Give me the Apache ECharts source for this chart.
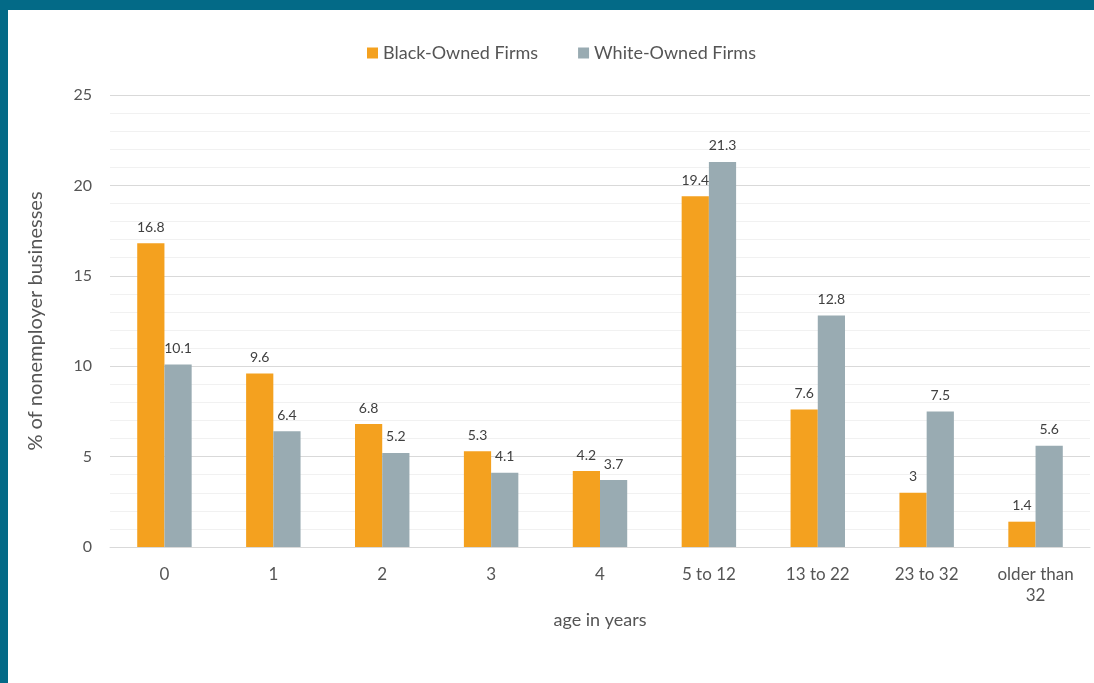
<!DOCTYPE html>
<html>
<head>
<meta charset="utf-8">
<script src="https://cdn.jsdelivr.net/npm/echarts@6/dist/echarts.min.js"></script>
<style>
  html, body { margin: 0; padding: 0; background: #ffffff; }
  #frame { position: relative; width: 1094px; height: 683px; overflow: hidden; background: #ffffff; }
  #topbar { position: absolute; left: 0; top: 0; width: 1094px; height: 10px; background: #036a87; }
  #leftbar { position: absolute; left: 0; top: 0; width: 8px; height: 683px; background: #036a87; }
  #chart { position: absolute; left: 0; top: 0; width: 1094px; height: 683px; }
</style>
</head>
<body>
<div id="frame">
  <div id="chart"></div>
  <div id="topbar"></div>
  <div id="leftbar"></div>
</div>
<script>
// Share of nonemployer businesses by firm age
const ageGroups = ['0', '1', '2', '3', '4', '5 to 12', '13 to 22', '23 to 32', 'older than\n32'];
const blackOwned = [16.8, 9.6, 6.8, 5.3, 4.2, 19.4, 7.6, 3, 1.4];
const whiteOwned = [10.1, 6.4, 5.2, 4.1, 3.7, 21.3, 12.8, 7.5, 5.6];
const yTicks = [0, 5, 10, 15, 20, 25];

const FONT = 'Lato, "Open Sans", sans-serif';
const TEXT = '#555555';

const chart = echarts.init(document.getElementById('chart'), null, { renderer: 'canvas' });

const labelStyle = {
  show: true,
  position: 'top',
  distance: 9,
  color: '#404040',
  fontFamily: FONT,
  fontSize: 14
};

chart.setOption({
  animation: false,
  backgroundColor: '#ffffff',
  legend: {
    top: 39,
    left: 362,
    itemWidth: 11,
    itemHeight: 11,
    itemGap: 40,
    icon: 'rect',
    textStyle: { color: TEXT, fontFamily: FONT, fontSize: 18 },
    data: ['Black-Owned Firms', 'White-Owned Firms']
  },
  grid: { left: 110, right: 4, top: 95, bottom: 136 },
  xAxis: {
    type: 'category',
    data: ageGroups,
    name: 'age in years',
    nameLocation: 'middle',
    nameGap: 63,
    nameTextStyle: { color: TEXT, fontFamily: FONT, fontSize: 18 },
    axisLine: { show: true, lineStyle: { color: '#d9d9d9', width: 1 } },
    axisTick: { show: false },
    axisLabel: {
      color: TEXT, fontFamily: FONT, fontSize: 17, margin: 17, lineHeight: 21
    }
  },
  yAxis: {
    type: 'value',
    min: yTicks[0],
    max: yTicks[yTicks.length - 1],
    interval: 5,
    name: '% of nonemployer businesses',
    nameLocation: 'middle',
    nameGap: 64,
    nameTextStyle: { color: TEXT, fontFamily: FONT, fontSize: 20 },
    axisLine: { show: false },
    axisTick: { show: false },
    axisLabel: { color: TEXT, fontFamily: FONT, fontSize: 16, margin: 18 },
    splitLine: { show: true, lineStyle: { color: '#d9d9d9', width: 1 } },
    minorTick: { show: false, splitNumber: 5 },
    minorSplitLine: { show: true, lineStyle: { color: '#f1f1f1', width: 1 } }
  },
  series: [
    {
      name: 'Black-Owned Firms',
      type: 'bar',
      data: blackOwned,
      itemStyle: { color: '#f4a11f' },
      barGap: '0%',
      barCategoryGap: '50%',
      label: labelStyle
    },
    {
      name: 'White-Owned Firms',
      type: 'bar',
      data: whiteOwned,
      itemStyle: { color: '#99abb2' },
      barGap: '0%',
      barCategoryGap: '50%',
      label: labelStyle
    }
  ]
});
</script>
</body>
</html>
